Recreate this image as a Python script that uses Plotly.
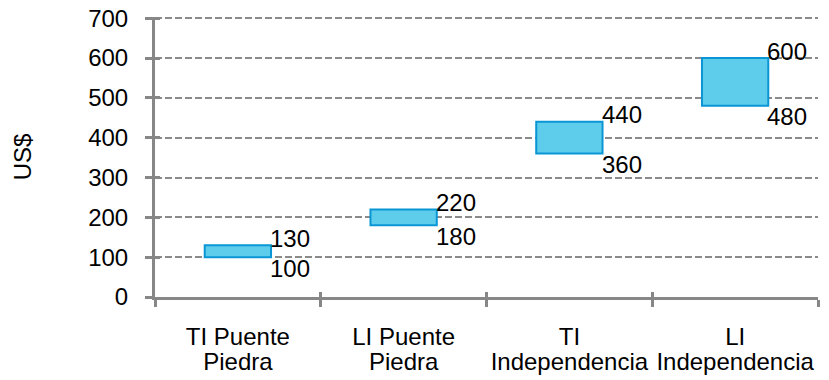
import plotly.graph_objects as go

categories = ["TI Puente Piedra", "LI Puente Piedra", "TI Independencia", "LI Independencia"]
tick_line1 = ["TI Puente", "LI Puente", "TI", "LI"]
tick_line2 = ["Piedra", "Piedra", "Independencia", "Independencia"]
low_values = [100, 180, 360, 480]
high_values = [130, 220, 440, 600]
y_ticks = [0, 100, 200, 300, 400, 500, 600, 700]

FONT = "Liberation Sans, Arial, sans-serif"
AXIS_COLOR = "#878787"
GRID_COLOR = "#8a8a8a"
FILL = "#5ECDEC"
EDGE = "#0A96D4"
FS = 24
Y_RANGE = [0, 703]

idx = list(range(len(categories)))
bounds = [i - 0.5 for i in idx] + [idx[-1] + 0.5]

fig = go.Figure()
fig.add_trace(go.Bar(
    x=categories,
    y=[h - l for h, l in zip(high_values, low_values)],
    base=low_values,
    width=0.4,
    marker=dict(color=FILL, line=dict(color=EDGE, width=2)),
    hoverinfo="skip",
    showlegend=False,
))
# invisible helper traces so the overlay axes (second label line, inner tick halves) are drawn
fig.add_trace(go.Scatter(x=idx, y=low_values, xaxis="x3", yaxis="y", mode="markers",
                         marker=dict(opacity=0), hoverinfo="skip", showlegend=False))
fig.add_trace(go.Scatter(x=idx, y=low_values, xaxis="x2", yaxis="y2", mode="markers",
                         marker=dict(opacity=0), hoverinfo="skip", showlegend=False))

annotations = []
for i, (lo, hi) in enumerate(zip(low_values, high_values)):
    annotations.append(dict(x=i + 0.2, y=hi, xref="x", yref="y", text=str(hi),
                            showarrow=False, xanchor="left", yanchor="middle",
                            xshift=-3, yshift=7, font=dict(size=FS, color="#000", family=FONT)))
    annotations.append(dict(x=i + 0.2, y=lo, xref="x", yref="y", text=str(lo),
                            showarrow=False, xanchor="left", yanchor="middle",
                            xshift=-3, yshift=-11, font=dict(size=FS, color="#000", family=FONT)))

fig.update_layout(
    width=829, height=380,
    margin=dict(l=155, r=11, t=17, b=83, autoexpand=False),
    paper_bgcolor="white", plot_bgcolor="white",
    font=dict(family=FONT, size=FS, color="#000"),
    annotations=annotations,
    hovermode=False,
    xaxis=dict(
        type="category",
        categoryorder="array", categoryarray=categories,
        tickvals=categories, ticktext=tick_line1,
        range=[-0.5, 3.5],
        showline=True, linecolor=AXIS_COLOR, linewidth=3,
        ticks="outside", tickson="boundaries", ticklen=7, tickwidth=3, tickcolor=AXIS_COLOR,
        showgrid=False, zeroline=False, automargin=False,
        tickfont=dict(size=FS, color="#000"),
        ticklabelstandoff=16, ticklabeloverflow="allow",
    ),
    xaxis3=dict(
        overlaying="x", range=[-0.5, 3.5], tickvals=idx, ticktext=tick_line2,
        ticks="", showgrid=False, zeroline=False, showline=False,
        anchor="y", side="bottom", automargin=False,
        tickfont=dict(size=FS, color="#000"),
        ticklabelstandoff=48, ticklabeloverflow="allow",
    ),
    yaxis=dict(
        range=Y_RANGE, tickvals=y_ticks,
        showline=True, linecolor=AXIS_COLOR, linewidth=3,
        ticks="outside", ticklen=7, tickwidth=3, tickcolor=AXIS_COLOR,
        showgrid=True, gridcolor=GRID_COLOR, gridwidth=1.5, griddash="7px,3px",
        zeroline=False, automargin=False,
        tickfont=dict(size=FS, color="#000"),
        ticklabelstandoff=12, ticklabeloverflow="allow",
        title=dict(text="US$", font=dict(size=FS, color="#000"), standoff=50),
    ),
    xaxis2=dict(
        overlaying="x", range=[-0.5, 3.5], tickvals=bounds,
        ticks="inside", ticklen=5, tickwidth=3, tickcolor=AXIS_COLOR,
        showticklabels=False, showgrid=False, zeroline=False, showline=False,
        anchor="y", side="bottom",
    ),
    yaxis2=dict(
        overlaying="y", range=Y_RANGE, tickvals=y_ticks,
        ticks="inside", ticklen=5, tickwidth=3, tickcolor=AXIS_COLOR,
        showticklabels=False, showgrid=False, zeroline=False, showline=False,
        anchor="x", side="left",
    ),
)

fig.write_html("out.html", config={"displayModeBar": False},
               post_script="document.body.style.margin='0';")
